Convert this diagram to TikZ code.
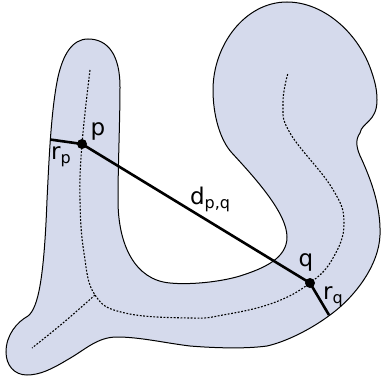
\documentclass[tikz,border=0pt]{standalone}
\usepackage{fontspec}
\setmainfont{DejaVu Sans}
\definecolor{shapefill}{HTML}{D5DAEC}
\tikzset{
  dotnode/.style={circle,fill=black,inner sep=0pt,minimum size=10pt},
  seg/.style={line width=2.6pt,black},
  medial/.style={line width=1.1pt,dash pattern=on 1.8pt off 1.6pt,black},
  lab/.style={inner sep=0pt,font=\fontsize{23}{23}\selectfont}
}
\newcommand{\sbx}[1]{\raisebox{-4pt}{\fontsize{16}{16}\selectfont #1}}
\begin{document}
\begin{tikzpicture}[x=1pt,y=-1pt]
\useasboundingbox (0,0) rectangle (380,382);
\path[fill=shapefill,draw=black,line width=1pt]
 (28,316) .. controls (38,308) and (44,280) .. (47,200)
 .. controls (49,160) and (51,110) .. (58,77)
 .. controls (63,55) and (72,39) .. (88,39)
 .. controls (108,39) and (120,55) .. (120,87)
 .. controls (120,120) and (118,165) .. (118,200)
 .. controls (118,245) and (135,280) .. (170,283)
 .. controls (190,285) and (220,282) .. (240,276)
 .. controls (265,268) and (287,258) .. (287,237)
 .. controls (287,213) and (255,178) .. (232,153)
 .. controls (220,140) and (213,115) .. (213,90)
 .. controls (213,45) and (245,2) .. (287,2)
 .. controls (325,2) and (360,35) .. (372,73)
 .. controls (375,82) and (377,90) .. (377,100)
 .. controls (377,122) and (362,122) .. (360,133)
 .. controls (355,140) and (356,148) .. (362,160)
 .. controls (370,178) and (381,205) .. (380,235)
 .. controls (379,265) and (355,297) .. (330,315)
 .. controls (310,330) and (285,342) .. (267,346)
 .. controls (245,349) and (215,348) .. (190,346)
 .. controls (165,343) and (140,337) .. (117,337)
 .. controls (97,337) and (85,350) .. (67,360)
 .. controls (52,369) and (40,375) .. (27,375)
 .. controls (14,375) and (6,365) .. (6,352)
 .. controls (6,335) and (17,322) .. (28,316) -- cycle;
\draw[medial] plot[smooth,tension=0.7] coordinates {
 (90,70) (82,144) (80,200) (84,253) (95,295) (125,313) (190,318) (223,315) (273,303) (310,283) (333,258) (344,223) (332,188) (290,133) (283,103) (288,73)};
\draw[medial] plot[smooth,tension=0.6] coordinates {(95,295) (63,323) (32,348)};
\node[dotnode] (p) at (82,144) {};
\node[dotnode] (q) at (310,283) {};
\coordinate (rpend) at (50,139.5);
\coordinate (rqend) at (329,315);
\draw[seg] (p.center) -- (q.center);
\draw[seg] (p.center) -- (rpend);
\draw[seg] (q.center) -- (rqend);
\node[lab] (lp) at (98,131) {p};
\node[lab] (lrp) at (61,157) {r\sbx{p}};
\node[lab] (ld) at (210,199) {d\sbx{p,q}};
\node[lab] (lq) at (306,262) {q};
\node[lab] (lrq) at (333,297) {r\sbx{q}};
\end{tikzpicture}
\end{document}
